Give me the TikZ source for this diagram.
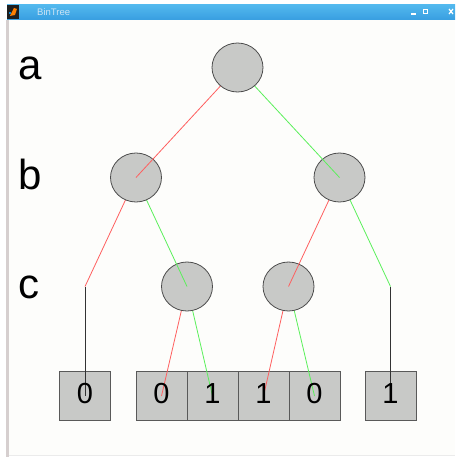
\documentclass[tikz,border=0pt]{standalone}
\usepackage{fontspec}
\setmainfont{Liberation Sans}
\usetikzlibrary{shapes.geometric}

\definecolor{nodegray}{RGB}{200,201,199}
\definecolor{edgered}{RGB}{255,95,95}
\definecolor{edgegreen}{RGB}{90,240,90}
\definecolor{bartop}{RGB}{82,184,238}
\definecolor{barbottom}{RGB}{56,158,224}
\definecolor{framegray}{RGB}{214,207,207}
\definecolor{paper}{RGB}{253,253,251}
\definecolor{titlegray}{RGB}{205,228,245}

\tikzset{
  treenode/.style={ellipse,draw=black!70,fill=nodegray,line width=0.8pt,minimum width=51pt,minimum height=49pt,inner sep=0pt},
  leafbox/.style={rectangle,draw=black!65,fill=nodegray,line width=0.9pt,minimum width=51pt,minimum height=49pt,inner sep=0pt},
  leafdigit/.style={inner sep=0pt,text depth=5pt,font=\fontsize{29}{29}\selectfont},
  rededge/.style={edgered,line width=0.8pt},
  greenedge/.style={edgegreen,line width=0.8pt},
  leafedge/.style={black!80,line width=0.8pt},
  levellabel/.style={anchor=base west,inner sep=0pt,font=\fontsize{42}{42}\selectfont}
}

\begin{document}
\begin{tikzpicture}[x=1pt,y=1pt,yscale=-1]
\useasboundingbox (0,0) rectangle (455,457);

% window
\fill[white] (0,0) rectangle (455,457);
\fill[paper] (9,20) rectangle (455,455);
\fill[framegray] (6,20) rectangle (9,457);
\draw[black!8] (9,455.5) -- (455,455.5);
\shade[top color=bartop,bottom color=barbottom] (7,5) rectangle (455,20);
\fill[black!88] (7,5) rectangle (19,19);
\fill[orange] (10,16) -- (14,8) -- (17,9) -- (15,15) -- cycle;
\fill[cyan!70!blue] (9,12) rectangle (11,14);
\node[anchor=west,inner sep=0pt,text=titlegray,font=\fontsize{9.5}{9.5}\selectfont] (titletext) at (37,12.5) {BinTree};
\draw[white,line width=1.2pt] (411,14) -- (416,14);
\draw[white,line width=1pt] (423.5,9.5) rectangle (427.5,13.5);
\draw[white,line width=1.2pt] (449,9) -- (453,14) (449,14) -- (453,9);

% leaves
\node[leafbox] (b0) at (85,396) {};
\node[leafbox] (b1) at (161.5,396) {};
\node[leafbox] (b2) at (212.5,396) {};
\node[leafbox] (b3) at (263.5,396) {};
\node[leafbox] (b4) at (314.5,396) {};
\node[leafbox] (b5) at (390.5,396) {};

% tree centres
\coordinate (root) at (237.5,67.5);
\coordinate (bl) at (136,177.5);
\coordinate (br) at (339.5,177.5);
\coordinate (cl) at (187,286.5);
\coordinate (cr) at (288.5,286.5);
\coordinate (bend0) at (85,286.5);
\coordinate (bend5) at (390.5,286.5);

% level c
\draw[leafedge] (bend0) -- (b0.center);
\draw[leafedge] (bend5) -- (b5.center);
\draw[rededge] (cl) -- (b1.center);
\draw[greenedge] (cl) -- (b2.center);
\draw[rededge] (cr) -- (b3.center);
\draw[greenedge] (cr) -- (b4.center);
\node[treenode] (ncl) at (cl) {};
\node[treenode] (ncr) at (cr) {};

% Text Node
\node[leafdigit] (d0) at (b0) {0};
\node[leafdigit] (d1) at (b1) {0};
\node[leafdigit] (d2) at (b2) {1};
\node[leafdigit] (d3) at (b3) {1};
\node[leafdigit] (d4) at (b4) {0};
\node[leafdigit] (d5) at (b5) {1};

% level b
\draw[rededge] (bl) -- (bend0);
\draw[greenedge] (bl) -- (cl);
\draw[rededge] (br) -- (cr);
\draw[greenedge] (br) -- (bend5);
\node[treenode] (nbl) at (bl) {};
\node[treenode] (nbr) at (br) {};

% level a
\draw[rededge] (root) -- (bl);
\draw[greenedge] (root) -- (br);
\node[treenode] (nroot) at (root) {};

% Text Node
\node[levellabel] (la) at (18.5,79.5) {a};
\node[levellabel] (lb) at (18.5,189.5) {b};
\node[levellabel] (lc) at (18.5,298.5) {c};

\end{tikzpicture}
\end{document}
